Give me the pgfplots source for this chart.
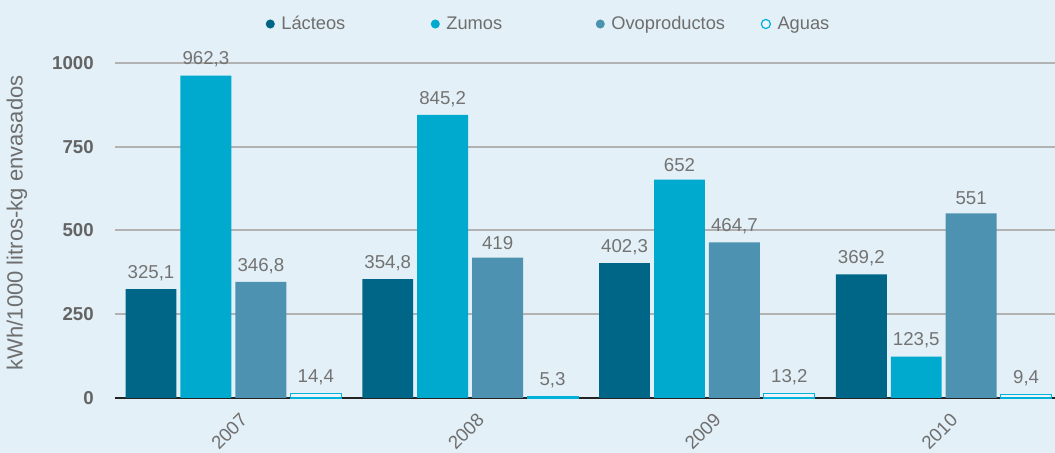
\documentclass[border=0pt]{standalone}
\usepackage{pgfplots}
\pgfplotsset{compat=1.18}
\usepackage{fontspec}
\setmainfont{Liberation Sans}
\usetikzlibrary{backgrounds}
\definecolor{bg}{RGB}{227,240,247}
\definecolor{lacteos}{RGB}{0,102,135}
\definecolor{zumos}{RGB}{0,170,206}
\definecolor{ovo}{RGB}{77,147,177}
\definecolor{aguas}{RGB}{0,178,218}
\definecolor{gridgray}{RGB}{178,178,178}
\definecolor{zerocol}{RGB}{35,35,35}
\definecolor{valgray}{RGB}{115,115,115}
\definecolor{tickgray}{RGB}{100,100,100}
\definecolor{labgray}{RGB}{110,110,110}
\pgfplotsset{dotlegend/.style={legend image code/.code={\path[##1,line width=0.9pt] (3.4pt,0pt) circle (3.4pt);}}}
\begin{document}
\begin{tikzpicture}
\begin{axis}[
  scale only axis, width=705pt, height=251.25pt,
  xmin=-0.5, xmax=3.47, ymin=0, ymax=1000,
  clip=false,
  ybar, bar width=0.215,
  xtick={0,1,2,3}, xticklabels={2007,2008,2009,2010},
  ytick={0,250,500,750,1000},
  major tick length=0pt,
  ymajorgrids, grid style={draw=gridgray, line width=1.5pt},
  axis x line*=bottom, axis y line*=left,
  y axis line style={draw=none},
  x axis line style={draw=zerocol, line width=2pt},
  /pgf/number format/assume math mode=true,
  /pgf/number format/1000 sep={},
  yticklabel style={font=\fontsize{14}{16}\selectfont\bfseries, text=tickgray, inner sep=0pt, xshift=-15.75pt},
  xticklabel style={font=\fontsize{14}{16}\selectfont, text=labgray, inner sep=0pt, xshift=8pt, yshift=-14pt, rotate=45, anchor=east},
  ylabel={kWh/1000 litros-kg envasados},
  every axis y label/.style={at={(rel axis cs:-0.1043,0.523)}, rotate=90, anchor=center, font=\fontsize{16.5}{18}\selectfont, text=labgray},
  nodes near coords={\pgfmathprintnumber[use comma, 1000 sep={}]{\pgfplotspointmeta}},
  every node near coord/.append style={font=\fontsize{14}{16}\selectfont, text=valgray, inner sep=0pt, yshift=6pt},
  legend columns=4,
  legend style={at={(rel axis cs:0.1601,1.1164)}, anchor=west, draw=none, fill=none, inner sep=0pt, column sep=0pt,
    font=\fontsize{13.7}{16}\selectfont, text=labgray,
    nodes={inner xsep=4.9pt}},
]
\addplot[fill=lacteos, draw=none, bar shift=-0.348, dotlegend] coordinates {(0,325.1) (1,354.8) (2,402.3) (3,369.2)};
\addplot[fill=zumos, draw=none, bar shift=-0.116, dotlegend] coordinates {(0,962.3) (1,845.2) (2,652) (3,123.5)};
\addplot[fill=ovo, draw=none, bar shift=0.116, dotlegend] coordinates {(0,346.8) (1,419) (2,464.7) (3,551)};
\addplot[fill=bg!70!white, draw=aguas, line width=0.9pt, bar shift=0.348, dotlegend] coordinates {(0,14.4) (1,5.3) (2,13.2) (3,9.4)};
\legend{\makebox[107.15pt][l]{Lácteos}, \makebox[107.15pt][l]{Zumos}, \makebox[107.15pt][l]{Ovoproductos}, Aguas}
\coordinate (bl) at (rel axis cs:-0.12234,-0.16418);
\coordinate (tr) at (rel axis cs:1,1.18806);
\end{axis}
\begin{scope}[on background layer]
\fill[bg] (bl) rectangle (tr);
\end{scope}
\pgfresetboundingbox
\useasboundingbox (bl) rectangle (tr);
\end{tikzpicture}
\end{document}
